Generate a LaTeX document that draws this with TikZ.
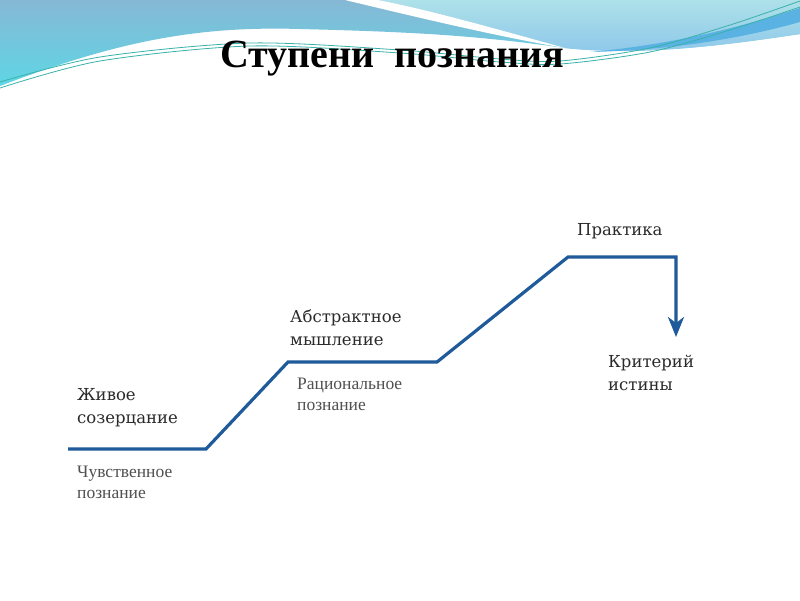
\documentclass[tikz,border=0pt]{standalone}
\usepackage{fontspec}
\setmainfont{Liberation Serif}
\newfontfamily\labelfont{DejaVu Serif}
\usetikzlibrary{arrows.meta}
\definecolor{stepblue}{HTML}{1F5A9B}
\definecolor{labelgray}{HTML}{2A2A2A}
\definecolor{smallgray}{HTML}{505050}
\definecolor{wavetop}{HTML}{86B8D5}
\definecolor{wavemid}{HTML}{78C4DC}
\definecolor{wavecyan}{HTML}{5ED6E5}
\definecolor{lighttop}{HTML}{AEE1E9}
\definecolor{lightbot}{HTML}{8CC6EA}
\definecolor{streakblue}{HTML}{5AB2E2}
\definecolor{teal}{HTML}{38B2A8}
\begin{document}
\begin{tikzpicture}[x=1pt,y=-1pt,
  titlestyle/.style={font=\bfseries\fontsize{40}{48}\selectfont, text=black, inner sep=0pt, anchor=base west},
  biglabel/.style={font=\labelfont\fontsize{16.5}{23}\selectfont, text=labelgray, align=left, inner sep=0pt, anchor=base west},
  smalllabel/.style={font=\fontsize{17.5}{20.5}\selectfont, text=smallgray, align=left, inner sep=0pt, anchor=base west},
  stepline/.style={draw=stepblue, line width=3.2pt, line join=miter, -{Stealth[length=20pt,width=16pt,inset=6pt]}},
  tealline/.style={draw=teal, line width=0.8pt}
]
\useasboundingbox (0,0) rectangle (800,600);
\fill[white] (0,0) rectangle (800,600);
% background wave
\shade[top color=wavetop, middle color=wavemid, bottom color=wavecyan]
  (0,0) -- (800,0) -- (800,34) .. controls (720,46) and (640,56) .. (565,48)
  .. controls (480,36) and (420,32) .. (300,29)
  .. controls (200,26) and (120,40) .. (0,86) -- cycle;
\shade[top color=lighttop, bottom color=lightbot]
  (378,0) -- (800,0) -- (800,34) .. controls (720,46) and (640,56) .. (565,48)
  .. controls (500,30) and (430,10) .. (378,0) -- cycle;
\fill[white]
  (345,0) .. controls (420,18) and (500,37) .. (565,48)
  .. controls (500,30) and (430,10) .. (378,0) -- cycle;
\fill[streakblue]
  (590,52) .. controls (680,44) and (750,24) .. (800,8) -- (800,22)
  .. controls (750,36) and (680,50) .. (590,52) -- cycle;
\draw[tealline] plot[smooth] coordinates {(0,82) (100,57) (250,43) (400,50) (500,59) (560,61) (650,48) (730,25) (800,1)};
\draw[tealline] plot[smooth] coordinates {(0,88) (100,61) (250,46) (400,53) (500,62) (560,64) (650,52) (730,30) (800,7)};
% title
\node[titlestyle] (title) at (220,67) {Ступени\ \ познания};
% labels (anchor = baseline of last line)
\node[biglabel] (zhivoe) at (77,423) {Живое\\созерцание};
\node[smalllabel] (chuvst) at (77,498) {Чувственное\\познание};
\node[biglabel] (abstr) at (290,345) {Абстрактное\\мышление};
\node[smalllabel] (ration) at (297,410) {Рациональное\\познание};
\node[biglabel] (prakt) at (577,235) {Практика};
\node[biglabel] (krit) at (608,390) {Критерий\\истины};
% steps
\coordinate (p0) at (68,449);
\coordinate (p1) at (206,449);
\coordinate (p2) at (288,362);
\coordinate (p3) at (437,362);
\coordinate (p4) at (568,257);
\coordinate (p5) at (676,257);
\coordinate (p6) at (676,337);
\draw[stepline] (p0) -- (p1) -- (p2) -- (p3) -- (p4) -- (p5) -- (p6);
\end{tikzpicture}
\end{document}
